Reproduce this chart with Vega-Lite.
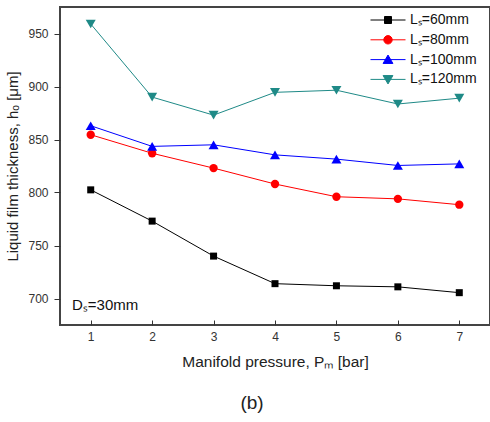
{
  "$schema": "https://vega.github.io/schema/vega-lite/v6.json",
  "width": 430,
  "height": 318,
  "autosize": "none",
  "padding": {"left": 60, "top": 7, "right": 0, "bottom": 97},
  "background": "white",
  "config": {"font": "Liberation Sans", "view": {"stroke": "#444", "strokeWidth": 2}},
  "title": {"text": "(b)", "orient": "bottom", "offset": 24, "fontSize": 19, "fontWeight": "normal", "color": "#222", "dx": -23},
  "data": {"values": [
    {"p": 1, "h": 802.5, "s": "Lₛ=60mm"},
    {"p": 2, "h": 773, "s": "Lₛ=60mm"},
    {"p": 3, "h": 740, "s": "Lₛ=60mm"},
    {"p": 4, "h": 714, "s": "Lₛ=60mm"},
    {"p": 5, "h": 712, "s": "Lₛ=60mm"},
    {"p": 6, "h": 711, "s": "Lₛ=60mm"},
    {"p": 7, "h": 705.5, "s": "Lₛ=60mm"},
    {"p": 1, "h": 854.5, "s": "Lₛ=80mm"},
    {"p": 2, "h": 837, "s": "Lₛ=80mm"},
    {"p": 3, "h": 823, "s": "Lₛ=80mm"},
    {"p": 4, "h": 808, "s": "Lₛ=80mm"},
    {"p": 5, "h": 796, "s": "Lₛ=80mm"},
    {"p": 6, "h": 794, "s": "Lₛ=80mm"},
    {"p": 7, "h": 788.5, "s": "Lₛ=80mm"},
    {"p": 1, "h": 863, "s": "Lₛ=100mm"},
    {"p": 2, "h": 843.5, "s": "Lₛ=100mm"},
    {"p": 3, "h": 845, "s": "Lₛ=100mm"},
    {"p": 4, "h": 835.5, "s": "Lₛ=100mm"},
    {"p": 5, "h": 831.5, "s": "Lₛ=100mm"},
    {"p": 6, "h": 825.5, "s": "Lₛ=100mm"},
    {"p": 7, "h": 827, "s": "Lₛ=100mm"},
    {"p": 1, "h": 959, "s": "Lₛ=120mm"},
    {"p": 2, "h": 890, "s": "Lₛ=120mm"},
    {"p": 3, "h": 873, "s": "Lₛ=120mm"},
    {"p": 4, "h": 894.5, "s": "Lₛ=120mm"},
    {"p": 5, "h": 896.5, "s": "Lₛ=120mm"},
    {"p": 6, "h": 883.5, "s": "Lₛ=120mm"},
    {"p": 7, "h": 889, "s": "Lₛ=120mm"}
  ]},
  "layer": [
    {
      "encoding": {
        "x": {"field": "p", "type": "quantitative", "scale": {"domain": [0.5, 7.5], "nice": false, "zero": false},
          "axis": {"values": [1, 2, 3, 4, 5, 6, 7], "format": "d", "grid": false, "domain": false, "tickSize": -5, "tickColor": "#333", "labelPadding": 11, "labelFontSize": 12, "labelColor": "#333",
            "title": "Manifold pressure, Pₘ [bar]", "titleFontSize": 15.5, "titleFontWeight": "normal", "titleColor": "#222", "titlePadding": 12}},
        "y": {"field": "h", "type": "quantitative", "scale": {"domain": [675, 975], "nice": false, "zero": false},
          "axis": {"values": [700, 750, 800, 850, 900, 950], "format": "d", "grid": false, "domain": false, "tickSize": 6, "tickColor": "#333", "labelPadding": 6, "labelFontSize": 12, "labelColor": "#333",
            "title": "Liquid film thickness, hₒ [μm]", "titleFontSize": 15, "titleFontWeight": "normal", "titleColor": "#222", "titleX": -40}},
        "color": {"field": "s", "type": "nominal", "scale": {"domain": ["Lₛ=60mm", "Lₛ=80mm", "Lₛ=100mm", "Lₛ=120mm"], "range": ["#000000", "#ff0000", "#0000ff", "#1f8a87"]},
          "legend": {"orient": "none", "legendX": 321, "legendY": 6, "title": null, "symbolSize": 49, "labelFontSize": 14, "labelOffset": 15, "labelColor": "#111", "rowPadding": 5.8, "symbolStrokeWidth": 1,
            "encode": {"symbols": {"update": {
              "shape": {"signal": "indexof(datum.value,'=60') >= 0 ? 'M-5,0H5M-1,-1H1V1H-1Z' : indexof(datum.value,'=80') >= 0 ? 'M-5,0H5M-1.2,0A1.2,1.2,0,1,1,1.2,0A1.2,1.2,0,1,1,-1.2,0Z' : indexof(datum.value,'=100') >= 0 ? 'M-5,0H5M-1.4,1.1L1.4,1.1L0,-1.3Z' : 'M-5,0H5M-1.4,-1.1L1.4,-1.1L0,1.3Z'"},
              "size": {"value": 49},
              "fill": {"scale": "color", "field": "value"},
              "stroke": {"scale": "color", "field": "value"},
              "strokeWidth": {"value": 1},
              "opacity": {"value": 1}
            }}}}}
      },
      "layer": [
        {"mark": {"type": "line", "strokeWidth": 1}, "encoding": {}},
        {"transform": [{"filter": "datum.s == 'Lₛ=60mm'"}], "mark": {"type": "point", "filled": true, "opacity": 1, "shape": "square", "size": 49}},
        {"transform": [{"filter": "datum.s == 'Lₛ=80mm'"}], "mark": {"type": "point", "filled": true, "opacity": 1, "shape": "circle", "size": 70}},
        {"transform": [{"filter": "datum.s == 'Lₛ=100mm'"}], "mark": {"type": "point", "filled": true, "opacity": 1, "shape": "triangle-up", "size": 100}},
        {"transform": [{"filter": "datum.s == 'Lₛ=120mm'"}], "mark": {"type": "point", "filled": true, "opacity": 1, "shape": "triangle-down", "size": 100}}
      ]
    },
    {
      "data": {"values": [{}]},
      "mark": {"type": "text", "align": "left", "baseline": "middle", "fontSize": 15, "color": "#111"},
      "encoding": {
        "x": {"datum": 0.695, "type": "quantitative"},
        "y": {"datum": 694, "type": "quantitative"},
        "text": {"value": "Dₛ=30mm"}
      }
    }
  ]
}
